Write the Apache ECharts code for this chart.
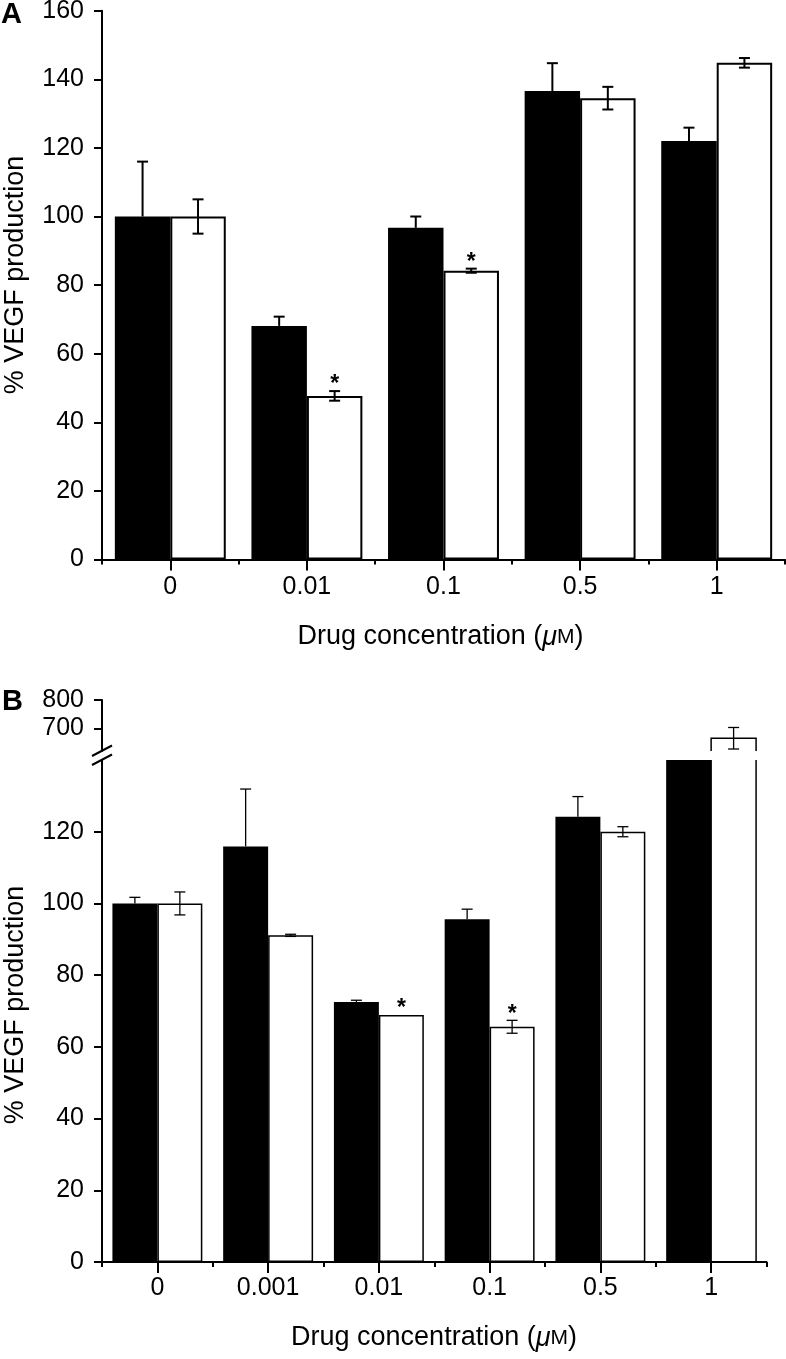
<!DOCTYPE html>
<html><head><meta charset="utf-8">
<script src="https://cdn.jsdelivr.net/npm/echarts@6/dist/echarts.min.js"></script>
<style>html,body{margin:0;padding:0;background:#fff}#c{width:786px;height:1359px}</style>
</head><body><div id="c"></div>
<script>
// ---- Panel A data ----
const catsA = ['0', '0.01', '0.1', '0.5', '1'];
const blackA = [100, 68.1, 96.7, 136.6, 122];
const blackAErr = [16, 2.7, 3.3, 8.1, 3.9];
const whiteA = [100, 47.7, 84.2, 134.5, 144.8];
const whiteAErr = [5, 1.4, 0.6, 3.3, 1.4];
const sigA = [0, 1, 1, 0, 0];
const yTicksA = [0, 20, 40, 60, 80, 100, 120, 140, 160];

// ---- Panel B data ----
const catsB = ['0', '0.001', '0.01', '0.1', '0.5', '1'];
const blackB = [100, 115.9, 72.5, 95.6, 124.2, 140];
const blackBErr = [1.7, 16, 0.5, 2.8, 5.6, 0];
const whiteB = [100, 91.1, 68.9, 65.6, 120, 665];
const whiteBErr = [3.2, 0.3, 0, 1.8, 1.4, 38];
const sigB = [0, 0, 1, 1, 0, 0];
const yTicksBLow = [0, 20, 40, 60, 80, 100, 120];
const yTicksBHigh = [700, 800];
const lowMaxB = 140, highMinB = 620, highMaxB = 800;

const FONT = '"Liberation Sans", Arial, Helvetica, sans-serif';
const BARW = 0.406;
const TICKFS = 25, TITLEFS = 27;

const chart = echarts.init(document.getElementById('c'), null, {renderer: 'canvas'});

function grid(left, top, width, height) {
  return {left, top, width, height, containLabel: false, outerBoundsMode: 'none'};
}
function xMain(gridIndex, cats, margin) {
  return {type: 'category', gridIndex, data: cats, position: 'bottom', boundaryGap: true,
    axisLine: {show: true, onZero: false, lineStyle: {color: '#000', width: 2}},
    axisTick: {show: true, alignWithLabel: false, interval: 0, length: 5, lineStyle: {color: '#000', width: 2}},
    axisLabel: {show: true, interval: 0, color: '#000', fontFamily: FONT, fontSize: TICKFS, margin},
    splitLine: {show: false}};
}
function xHelp(gridIndex, cats, showTicks) {
  return {type: 'category', gridIndex, data: cats, position: 'bottom', boundaryGap: true,
    axisLine: {show: false},
    axisTick: {show: showTicks, alignWithLabel: true, interval: 0, length: 11, lineStyle: {color: '#000', width: 2}},
    axisLabel: {show: false}, splitLine: {show: false}};
}
function yAx(gridIndex, min, max, ticks) {
  return {type: 'value', gridIndex, min, max,
    axisLine: {show: true, lineStyle: {color: '#000', width: 2}},
    axisTick: {show: true, length: 8, inside: false, lineStyle: {color: '#000', width: 2}, customValues: ticks},
    axisLabel: {show: true, color: '#000', fontFamily: FONT, fontSize: TICKFS, margin: 18, customValues: ticks},
    splitLine: {show: false}};
}

// error bars (and significance stars); keep(v) decides which items are drawn in this grid
function errSeries(xIdx, yIdx, vals, errs, side, both, lw, sig, keep) {
  const data = vals.map((v, i) => [i, v, errs[i], sig ? sig[i] : 0]);
  return {type: 'custom', xAxisIndex: xIdx, yAxisIndex: yIdx, data, silent: true, z: 5,
    encode: {x: 0, y: 1},
    renderItem(params, api) {
      const i = api.value(0), v = api.value(1), e = api.value(2), s = api.value(3);
      if (keep && !keep(v)) return null;
      const band = api.size([1, 0])[0];
      const bw = band * BARW;
      const c = api.coord([i, v]);
      const x = c[0] + side * bw / 2;
      const cap = 5.5;
      const st = {stroke: '#000', lineWidth: lw};
      const children = [];
      const yt = api.coord([i, v + e])[1];
      if (e > 0) {
        const yb = both ? api.coord([i, v - e])[1] : c[1];
        children.push({type: 'line', shape: {x1: x, y1: yt, x2: x, y2: yb}, style: st});
        children.push({type: 'line', shape: {x1: x - cap, y1: yt, x2: x + cap, y2: yt}, style: st});
        if (both) children.push({type: 'line', shape: {x1: x - cap, y1: yb, x2: x + cap, y2: yb}, style: st});
      }
      if (s) {
        children.push({type: 'text', style: {text: '*', x: x, y: yt - 6, align: 'center', verticalAlign: 'middle',
          font: 'bold 23px ' + FONT, fill: '#000'}});
      }
      return {type: 'group', children};
    }};
}

const inLow = v => v <= lowMaxB;
const inHigh = v => v > lowMaxB;

// broken white bar, lower segment: two side lines up to top of lower axis
const brokenLow = {type: 'custom', xAxisIndex: 2, yAxisIndex: 1, silent: true, z: 4,
  data: whiteB.map((v, i) => [i, v]), encode: {x: 0, y: 1},
  renderItem(params, api) {
    const i = api.value(0), v = api.value(1);
    if (!inHigh(v)) return null;
    const bw = api.size([1, 0])[0] * BARW;
    const p0 = api.coord([i, 0]), p1 = api.coord([i, lowMaxB]);
    const x0 = p0[0], x1 = p0[0] + bw;
    const st = {stroke: '#000', lineWidth: 1.5};
    return {type: 'group', children: [
      {type: 'line', shape: {x1: x0, y1: p0[1], x2: x0, y2: p1[1]}, style: st},
      {type: 'line', shape: {x1: x1, y1: p0[1], x2: x1, y2: p1[1]}, style: st}
    ]};
  }};
// broken white bar, upper segment: open-bottom box
const brokenHigh = {type: 'custom', xAxisIndex: 4, yAxisIndex: 2, silent: true, z: 4,
  data: whiteB.map((v, i) => [i, v]), encode: {x: 0, y: 1},
  renderItem(params, api) {
    const i = api.value(0), v = api.value(1);
    if (!inHigh(v)) return null;
    const bw = api.size([1, 0])[0] * BARW;
    const pb = api.coord([i, highMinB]), pv = api.coord([i, v]);
    const x0 = pb[0], x1 = pb[0] + bw;
    return {type: 'polyline', shape: {points: [[x0, pb[1]], [x0, pv[1]], [x1, pv[1]], [x1, pb[1]]]},
      style: {stroke: '#000', lineWidth: 1.5, fill: null}};
  }};

const xTitle = 'Drug concentration ({mu|μ}{m|M})';
const xTitleRich = {mu: {fontStyle: 'italic', fontSize: TITLEFS, fontFamily: FONT, fill: '#000'},
  m: {fontSize: 21, fontFamily: FONT, fill: '#000'}};

const option = {
  animation: false,
  backgroundColor: '#fff',
  grid: [
    grid(102, 10.7, 683, 548.8),
    grid(102, 760, 664.5, 502),
    grid(102, 700, 664.5, 51)
  ],
  xAxis: [
    xMain(0, catsA, 15), xHelp(0, catsA, true),
    xMain(1, catsB, 14), xHelp(1, catsB, true),
    Object.assign(xHelp(2, catsB, false), {show: false})
  ],
  yAxis: [
    yAx(0, 0, 160, yTicksA),
    yAx(1, 0, lowMaxB, yTicksBLow),
    yAx(2, highMinB, highMaxB, yTicksBHigh)
  ],
  series: [
    {type: 'bar', xAxisIndex: 0, yAxisIndex: 0, data: blackA, barWidth: '40.6%', barGap: '0%', silent: true,
      itemStyle: {color: '#000', borderWidth: 0}},
    {type: 'bar', xAxisIndex: 0, yAxisIndex: 0, data: whiteA, barWidth: '40.6%', barGap: '0%', silent: true,
      itemStyle: {color: '#fff', borderColor: '#000', borderWidth: 2}},
    {type: 'bar', xAxisIndex: 2, yAxisIndex: 1, data: blackB, barWidth: '40.6%', barGap: '0%', silent: true,
      itemStyle: {color: '#000', borderWidth: 0}},
    {type: 'bar', xAxisIndex: 2, yAxisIndex: 1, data: whiteB.map(v => inLow(v) ? v : '-'), barWidth: '40.6%', barGap: '0%', silent: true,
      itemStyle: {color: '#fff', borderColor: '#000', borderWidth: 1.5}},
    brokenLow, brokenHigh,
    errSeries(0, 0, blackA, blackAErr, -1, false, 2, null, null),
    errSeries(0, 0, whiteA, whiteAErr, 1, true, 2, sigA, null),
    errSeries(2, 1, blackB, blackBErr, -1, false, 1.3, null, inLow),
    errSeries(2, 1, whiteB, whiteBErr, 1, true, 1.3, sigB, inLow),
    errSeries(4, 2, whiteB, whiteBErr, 1, true, 1.3, null, inHigh)
  ],
  graphic: [
    {type: 'text', x: 1, y: 14.5, style: {text: 'A', align: 'left', verticalAlign: 'middle', font: 'bold 29px ' + FONT, fill: '#000'}},
    {type: 'text', x: 2, y: 701.7, style: {text: 'B', align: 'left', verticalAlign: 'middle', font: 'bold 29px ' + FONT, fill: '#000'}},
    {type: 'text', x: 16, y: 275, rotation: Math.PI / 2, style: {text: '% VEGF production', align: 'center', verticalAlign: 'middle', font: TITLEFS + 'px ' + FONT, fill: '#000'}},
    {type: 'text', x: 16, y: 1005, rotation: Math.PI / 2, style: {text: '% VEGF production', align: 'center', verticalAlign: 'middle', font: TITLEFS + 'px ' + FONT, fill: '#000'}},
    {type: 'text', x: 440.5, y: 637, style: {text: xTitle, align: 'center', verticalAlign: 'middle', font: TITLEFS + 'px ' + FONT, fill: '#000', rich: xTitleRich}},
    {type: 'text', x: 434, y: 1338, style: {text: xTitle, align: 'center', verticalAlign: 'middle', font: TITLEFS + 'px ' + FONT, fill: '#000', rich: xTitleRich}},
    {type: 'line', shape: {x1: 92, y1: 756, x2: 112, y2: 745.5}, style: {stroke: '#000', lineWidth: 2}},
    {type: 'line', shape: {x1: 92, y1: 765, x2: 112, y2: 754.5}, style: {stroke: '#000', lineWidth: 2}}
  ]
};
chart.setOption(option);
</script>
</body></html>
